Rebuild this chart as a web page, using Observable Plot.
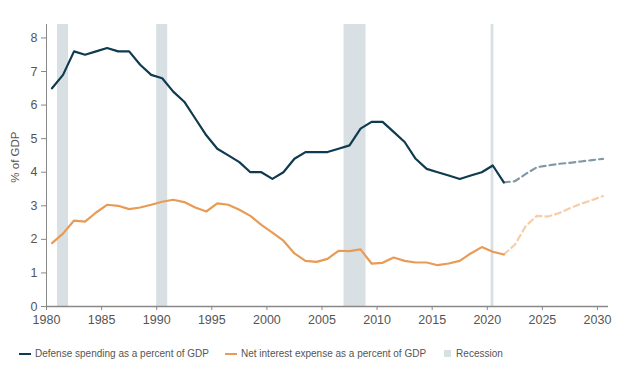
<!DOCTYPE html>
<html>
<head>
<meta charset="utf-8">
<script src="https://cdn.jsdelivr.net/npm/d3@7"></script>
<script src="https://cdn.jsdelivr.net/npm/@observablehq/plot@0.6"></script>
<style>
  html, body { margin: 0; padding: 0; background: #fff; }
  body { width: 630px; height: 378px; font-family: "Liberation Sans", Arial, Helvetica, sans-serif; }
  #legend { display: flex; align-items: center; font-size: 10px; color: #555; padding-left: 19px; margin-top: 8px; }
  .item { display: flex; align-items: center; margin-right: 16px; }
  .item:nth-child(2) { margin-right: 18px; }
  .line { width: 12px; height: 2px; margin-right: 4px; }
  .sq { width: 7px; height: 7px; margin-right: 5px; }
</style>
</head>
<body>
<div id="chart"></div>
<div id="legend"></div>
<script>
// Historical (points plotted at mid-year)
const years = [1980,1981,1982,1983,1984,1985,1986,1987,1988,1989,1990,1991,1992,1993,1994,1995,1996,1997,1998,1999,2000,2001,2002,2003,2004,2005,2006,2007,2008,2009,2010,2011,2012,2013,2014,2015,2016,2017,2018,2019,2020,2021];
const defense = [6.5,6.9,7.6,7.5,7.6,7.7,7.6,7.6,7.2,6.9,6.8,6.4,6.1,5.6,5.1,4.7,4.5,4.3,4.0,4.0,3.8,4.0,4.4,4.6,4.6,4.6,4.7,4.8,5.3,5.5,5.5,5.2,4.9,4.4,4.1,4.0,3.9,3.8,3.9,4.0,4.2,3.7];
const interest = [1.89,2.17,2.56,2.53,2.8,3.03,3.0,2.9,2.95,3.03,3.12,3.18,3.11,2.95,2.83,3.07,3.03,2.88,2.7,2.43,2.2,1.96,1.58,1.36,1.33,1.42,1.66,1.65,1.7,1.28,1.30,1.46,1.36,1.31,1.31,1.23,1.28,1.36,1.58,1.77,1.63,1.55];

// Projections
const projYears = [2021,2022,2023,2024,2025,2026,2027,2028,2029,2030];
const defenseProj = [3.7,3.73,3.95,4.15,4.2,4.25,4.28,4.32,4.36,4.4];
const interestProj = [1.55,1.84,2.4,2.7,2.68,2.78,2.93,3.06,3.17,3.29];

// Recessions
const recStart = [1981.0, 1990.0, 2007.0, 2020.35];
const recEnd = [1982.0, 1991.0, 2009.0, 2020.6];

const xTicks = [1980,1985,1990,1995,2000,2005,2010,2015,2020,2025,2030];
const yTicks = [0,1,2,3,4,5,6,7,8];

const colDef = "#0f3a4f", colInt = "#e89b55", colDefP = "#8199a6", colIntP = "#f6cea8", colRec = "#d8e0e3";

const hist = years.map((y, i) => ({year: y, defense: defense[i], interest: interest[i]}));
const proj = projYears.map((y, i) => ({year: y, defense: defenseProj[i], interest: interestProj[i]}));
const rec = recStart.map((s, i) => ({start: s, end: recEnd[i]}));

const chart = Plot.plot({
  width: 630,
  height: 340,
  marginLeft: 46,
  marginRight: 22,
  marginTop: 24,
  marginBottom: 34,
  style: {fontFamily: '"Liberation Sans", Arial, sans-serif', fontSize: "12.5px", color: "#555", background: "#fff"},
  x: {domain: [1980, 2031], ticks: xTicks, tickFormat: d => String(d), label: null},
  y: {domain: [0, 8.4], ticks: yTicks, label: null},
  marks: [
    Plot.rectY(rec, {x1: "start", x2: "end", y1: 0, y2: 8.4, fill: colRec}),
    Plot.line(proj, {x: d => d.year + 0.5, y: "defense", stroke: colDefP, strokeWidth: 2.2, strokeDasharray: "6,4"}),
    Plot.line(proj, {x: d => d.year + 0.5, y: "interest", stroke: colIntP, strokeWidth: 2.2, strokeDasharray: "6,4"}),
    Plot.line(hist, {x: d => d.year + 0.5, y: "defense", stroke: colDef, strokeWidth: 2.2}),
    Plot.line(hist, {x: d => d.year + 0.5, y: "interest", stroke: colInt, strokeWidth: 2.2}),
    Plot.axisX({ticks: xTicks, tickFormat: d => String(d), tickSize: 4, tickPadding: 5, stroke: "#888", color: "#555", label: null}),
    Plot.axisY({ticks: yTicks, tickSize: 5, tickPadding: 4, stroke: "#888", color: "#555", label: null}),
    Plot.ruleX([1980], {y1: 0, y2: 8.4, stroke: "#888", strokeWidth: 1}),
    Plot.ruleY([0], {x1: 1980, x2: 2031, stroke: "#888", strokeWidth: 1.5}),
    Plot.text(["% of GDP"], {dx: -31, rotate: -90, fill: "#555", fontSize: 11.5, y: 4.45, x: 1980, textAnchor: "middle"})
  ]
});
document.getElementById("chart").appendChild(chart);

const legendItems = [
  {label: "Defense spending as a percent of GDP", type: "line", color: colDef},
  {label: "Net interest expense as a percent of GDP", type: "line", color: colInt},
  {label: "Recession", type: "sq", color: colRec}
];
const lg = document.getElementById("legend");
legendItems.forEach(it => {
  const d = document.createElement("div");
  d.className = "item";
  const s = document.createElement("span");
  s.className = it.type;
  s.style.background = it.color;
  d.appendChild(s);
  const t = document.createElement("span");
  t.textContent = it.label;
  d.appendChild(t);
  lg.appendChild(d);
});
</script>
</body>
</html>
